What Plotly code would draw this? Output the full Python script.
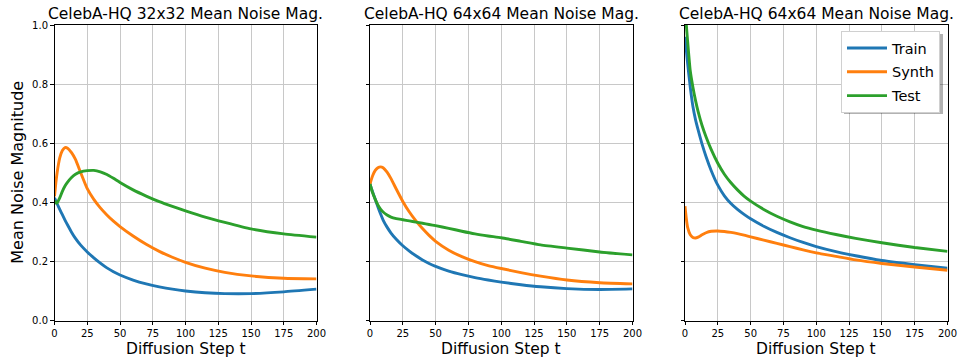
import plotly.graph_objects as go

steps = [0, 1, 2, 4, 6, 8, 10, 13, 16, 20, 25, 30, 35, 40, 45, 50, 60, 70, 80, 90, 100, 115, 130, 150, 175, 200]

# Panel 1: CelebA-HQ 32x32
p1_train = [0.415, 0.405, 0.395, 0.376, 0.358, 0.340, 0.323, 0.299, 0.278, 0.255, 0.232, 0.212, 0.194, 0.178, 0.165, 0.154, 0.137, 0.124, 0.114, 0.106, 0.100, 0.094, 0.091, 0.091, 0.097, 0.106]
p1_synth = [0.420, 0.465, 0.500, 0.550, 0.575, 0.585, 0.583, 0.568, 0.545, 0.500, 0.446, 0.410, 0.381, 0.357, 0.336, 0.318, 0.286, 0.258, 0.234, 0.214, 0.197, 0.177, 0.163, 0.151, 0.143, 0.141]
p1_test = [0.405, 0.398, 0.398, 0.415, 0.437, 0.455, 0.468, 0.484, 0.495, 0.503, 0.507, 0.508, 0.503, 0.494, 0.481, 0.467, 0.442, 0.421, 0.402, 0.386, 0.371, 0.350, 0.332, 0.310, 0.293, 0.282]

# Panel 2: CelebA-HQ 64x64
p2_train = [0.462, 0.448, 0.435, 0.410, 0.385, 0.361, 0.340, 0.316, 0.296, 0.275, 0.253, 0.235, 0.219, 0.205, 0.193, 0.183, 0.167, 0.155, 0.145, 0.137, 0.130, 0.121, 0.114, 0.108, 0.105, 0.107]
p2_synth = [0.462, 0.477, 0.490, 0.508, 0.517, 0.520, 0.517, 0.502, 0.480, 0.445, 0.403, 0.367, 0.337, 0.311, 0.288, 0.268, 0.238, 0.216, 0.199, 0.186, 0.176, 0.162, 0.150, 0.137, 0.128, 0.124]
p2_test = [0.462, 0.446, 0.432, 0.410, 0.391, 0.377, 0.367, 0.357, 0.350, 0.345, 0.341, 0.337, 0.333, 0.329, 0.325, 0.321, 0.312, 0.302, 0.293, 0.286, 0.280, 0.268, 0.256, 0.245, 0.232, 0.222]

# Panel 3: CelebA-HQ 64x64
p3_train = [0.960, 0.915, 0.870, 0.790, 0.725, 0.680, 0.645, 0.597, 0.555, 0.507, 0.458, 0.422, 0.396, 0.376, 0.359, 0.344, 0.319, 0.298, 0.280, 0.264, 0.250, 0.233, 0.219, 0.203, 0.189, 0.177]
p3_synth = [0.387, 0.345, 0.315, 0.290, 0.281, 0.279, 0.282, 0.290, 0.297, 0.302, 0.303, 0.301, 0.298, 0.294, 0.289, 0.283, 0.272, 0.261, 0.250, 0.239, 0.229, 0.217, 0.205, 0.193, 0.181, 0.170]
p3_test = [1.050, 1.000, 0.945, 0.845, 0.790, 0.745, 0.707, 0.660, 0.622, 0.578, 0.532, 0.495, 0.466, 0.442, 0.421, 0.404, 0.376, 0.353, 0.334, 0.318, 0.306, 0.291, 0.278, 0.263, 0.247, 0.234]

titles = ["CelebA-HQ 32x32 Mean Noise Mag.", "CelebA-HQ 64x64 Mean Noise Mag.", "CelebA-HQ 64x64 Mean Noise Mag."]
series_names = ["Train", "Synth", "Test"]
colors = ["#1f77b4", "#ff7f0e", "#2ca02c"]
x_ticks = [0, 25, 50, 75, 100, 125, 150, 175, 200]
y_ticks = [0.0, 0.2, 0.4, 0.6, 0.8, 1.0]

panels = [
    (p1_train, p1_synth, p1_test),
    (p2_train, p2_synth, p2_test),
    (p3_train, p3_synth, p3_test),
]

W, H = 960, 360
xdoms = [(54.5 / W, 316.5 / W), (370 / W, 632.5 / W), (685 / W, 947.5 / W)]
ydom = (1 - 320.5 / H, 1 - 25 / H)
FONT = "DejaVu Sans"

fig = go.Figure()
for i, data in enumerate(panels):
    suffix = "" if i == 0 else str(i + 1)
    for j, vals in enumerate(data):
        fig.add_trace(go.Scatter(
            x=steps, y=vals, mode="lines", name=series_names[j],
            line=dict(color=colors[j], width=2.9, shape="spline", smoothing=0.5),
            xaxis="x" + suffix, yaxis="y" + suffix,
            showlegend=(i == 2), legendgroup=series_names[j],
        ))

axis_common = dict(
    showline=True, linecolor="black", linewidth=1, mirror=True,
    ticks="outside", ticklen=3.5, tickwidth=0.8, tickcolor="black",
    showgrid=True, gridcolor="#c8c8c8", gridwidth=1, zeroline=False,
    tickfont=dict(family=FONT, size=10, color="black"), automargin=False,
)

layout = dict(
    width=W, height=H, margin=dict(l=0, r=0, t=0, b=0, autoexpand=False),
    paper_bgcolor="white", plot_bgcolor="white",
    font=dict(family=FONT, color="black"),
    showlegend=True,
    legend=dict(
        x=940 / W, xanchor="right", y=1 - 31 / H, yanchor="top",
        bgcolor="white", bordercolor="#d0d0d0", borderwidth=1,
        font=dict(family=FONT, size=14.5, color="black"),
        tracegroupgap=2, itemwidth=40,
    ),
)

annotations = []
shapes = []
for i in range(3):
    suffix = "" if i == 0 else str(i + 1)
    xa = dict(axis_common)
    xa.update(domain=list(xdoms[i]), range=[0, 200], tickvals=x_ticks, anchor="y" + suffix)
    ya = dict(axis_common)
    ya.update(domain=list(ydom), range=[0, 1], tickvals=y_ticks,
              tickformat=".1f", anchor="x" + suffix, showticklabels=(i == 0))
    layout["xaxis" + suffix] = xa
    layout["yaxis" + suffix] = ya
    cx = (xdoms[i][0] + xdoms[i][1]) / 2
    annotations.append(dict(
        text=titles[i], xref="paper", yref="paper",
        x=cx, y=ydom[1], xanchor="center", yanchor="bottom",
        yshift=0, showarrow=False, font=dict(family=FONT, size=15.5, color="black"),
    ))
    annotations.append(dict(
        text="Diffusion Step t", xref="paper", yref="paper",
        x=cx, y=1 - 349 / H, xanchor="center", yanchor="middle",
        showarrow=False, font=dict(family=FONT, size=15.5, color="black"),
    ))

annotations.append(dict(
    text="Mean Noise Magnitude", xref="paper", yref="paper",
    x=18 / W, y=(ydom[0] + ydom[1]) / 2, xanchor="center", yanchor="middle",
    textangle=-90, showarrow=False, font=dict(family=FONT, size=16, color="black"),
))

# legend shadow
shapes.append(dict(type="rect", xref="paper", yref="paper",
                   x0=844 / W, x1=943 / W, y0=1 - 114 / H, y1=1 - 34 / H,
                   fillcolor="rgba(0,0,0,0.3)", line=dict(width=0), layer="above"))

layout["annotations"] = annotations
layout["shapes"] = shapes
fig.update_layout(**layout)
fig.write_html("out.html", config={"displayModeBar": False},
               post_script="document.body.style.margin='0';document.body.style.overflow='hidden';")
